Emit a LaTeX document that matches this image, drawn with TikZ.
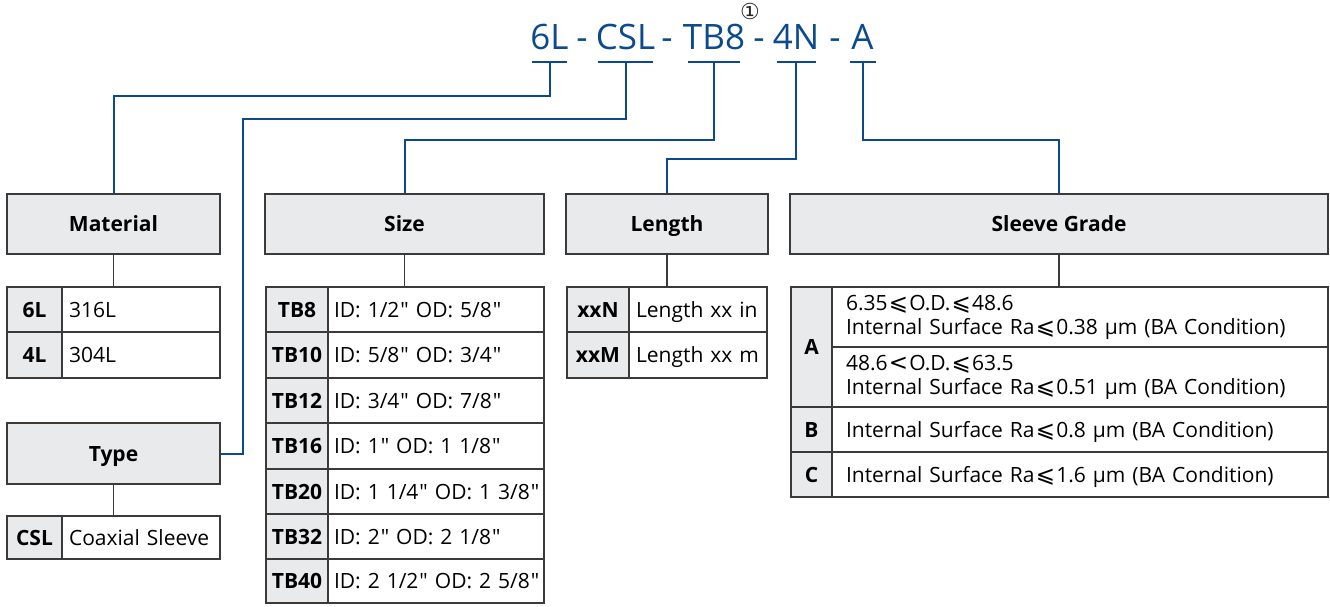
\documentclass[tikz,border=0pt]{standalone}
\usepackage{fontspec}
\setmainfont{Open Sans}
\newfontfamily\symf{DejaVu Sans}
\newfontfamily\rawf{Open Sans}
\definecolor{navy}{HTML}{0B4A8C}
\definecolor{hdrgray}{HTML}{E9EAEC}
\definecolor{edge}{HTML}{3A3A3A}
\newcommand\fs{\fontsize{21}{24}\selectfont}
\newcommand\myle{\hspace{1.2pt}{\symf\fontsize{23}{24}\selectfont ⩽}\hspace{1.2pt}}
\newcommand\mylt{\hspace{1.2pt}{\symf\fontsize{23}{24}\selectfont <}\hspace{1.2pt}}
\newcommand\qq{\hspace{1pt}{\rawf "}}
% style-cell: options, name, x1,y1,x2,y2, text
\newcommand\kcell[7]{%
  \pgfmathsetmacro\cw{#5-#3}\pgfmathsetmacro\ch{#6-#4}%
  \node[#1, minimum width=\cw pt, minimum height=\ch pt] (#2) at ({(#3+#5)/2},{(#4+#6)/2}) {#7};}
% value cell: options, name, x1,y1,x2,y2, pad, text
\newcommand\vcell[8]{%
  \pgfmathsetmacro\cw{#5-#3}\pgfmathsetmacro\ch{#6-#4}\pgfmathsetmacro\tw{#5-#3-2*#7}%
  \node[val, minimum width=\cw pt, minimum height=\ch pt, text width=\tw pt, #1] (#2) at ({(#3+#5)/2},{(#4+#6)/2}) {#8};}
\begin{document}
\begin{tikzpicture}[x=1pt,y=-1pt,
  box/.style={draw=edge, line width=1.5pt, inner sep=0pt},
  hdr/.style={box, fill=hdrgray, font=\fs\bfseries, text height=15pt, text depth=0pt},
  key/.style={box, fill=hdrgray, font=\fs\bfseries, text height=15pt, text depth=0pt},
  val/.style={box, fill=white, font=\fs, align=left, text height=15pt, text depth=0pt},
  wire/.style={draw=navy, line width=2pt},
  stem/.style={draw=edge, line width=1.5pt},
  ttl/.style={text=navy, font=\fontsize{35}{40}\selectfont, anchor=base, inner sep=0pt, text height=25pt, text depth=0pt}]
\useasboundingbox (0,0) rectangle (1330,607);

% ---- title ----
\node[ttl] (t1) at (549.5,49.3) {6L};
\node[ttl] (d1) at (582,49.3) {-};
\node[ttl] (t2) at (625.5,49.3) {CSL};
\node[ttl] (d2) at (667,49.3) {-};
\node[ttl] (t3) at (714,49.3) {TB8};
\node[ttl] (d3) at (759,49.3) {-};
\node[ttl] (t4) at (796,49.3) {4N};
\node[ttl] (d4) at (835,49.3) {-};
\node[ttl] (t5) at (862.5,49.3) {A};
\node[inner sep=0pt, text=black!85, font=\symf\fontsize{22}{22}\selectfont, anchor=base, text height=16pt, text depth=0pt] (note) at (750,20) {①};
\coordinate (ul) at (0,62);
\coordinate (u1a) at (532,62); \coordinate (u1b) at (567,62);
\coordinate (u2a) at (598,62); \coordinate (u2b) at (653,62);
\coordinate (u3a) at (688,62); \coordinate (u3b) at (740,62);
\coordinate (u4a) at (777,62); \coordinate (u4b) at (816,62);
\coordinate (u5a) at (850,62); \coordinate (u5b) at (876,62);
\foreach \u in {u1,u2,u3,u4,u5}{\draw[wire] (\u a) -- (\u b);}

% ---- header boxes ----
\kcell{hdr}{mat}{7}{194}{220}{254}{Material}
\kcell{hdr}{typ}{7}{423}{220}{484}{Type}
\kcell{hdr}{siz}{265}{194}{544}{254}{Size}
\kcell{hdr}{len}{566}{194}{768}{254}{Length}
\kcell{hdr}{slv}{790}{194}{1328}{254}{Sleeve Grade}

% ---- connectors ----
\coordinate (cslx) at (243,119);
\draw[wire] (t1|-ul) -- ++(0,34) -| (mat.north);
\draw[wire] (t2|-ul) |- (cslx) |- (typ.east);
\draw[wire] (t3|-ul) -- ++(0,78) -| (siz.north);
\draw[wire] (t4|-ul) -- ++(0,97) -| (len.north);
\draw[wire] (t5|-ul) -- ++(0,78) -| (slv.north);

% ---- material table ----
\kcell{key}{m1k}{7}{287}{62}{332}{6L}
\vcell{}{m1v}{62}{287}{220}{332}{7}{\mbox{316L}}
\kcell{key}{m2k}{7}{332}{62}{378}{4L}
\vcell{}{m2v}{62}{332}{220}{378}{7}{\mbox{304L}}
\draw[stem] (mat.south) -- (mat.south|-m1v.north);

% ---- type table ----
\kcell{key}{y1k}{7}{516}{62}{559}{CSL}
\vcell{}{y1v}{62}{516}{220}{559}{7}{\mbox{Coaxial Sleeve}}
\draw[stem] (typ.south) -- (typ.south|-y1v.north);

% ---- size table ----
\kcell{key}{s1k}{266}{287}{328}{332}{TB8}
\vcell{}{s1v}{328}{287}{544}{332}{6}{\mbox{ID: 1/2\qq{} OD: 5/8\qq}}
\kcell{key}{s2k}{266}{332}{328}{378}{TB10}
\vcell{}{s2v}{328}{332}{544}{378}{6}{\mbox{ID: 5/8\qq{} OD: 3/4\qq}}
\kcell{key}{s3k}{266}{378}{328}{423}{TB12}
\vcell{}{s3v}{328}{378}{544}{423}{6}{\mbox{ID: 3/4\qq{} OD: 7/8\qq}}
\kcell{key}{s4k}{266}{423}{328}{469}{TB16}
\vcell{}{s4v}{328}{423}{544}{469}{6}{\mbox{ID: 1\qq{} OD: 1 1/8\qq}}
\kcell{key}{s5k}{266}{469}{328}{514}{TB20}
\vcell{}{s5v}{328}{469}{544}{514}{6}{\mbox{ID: 1 1/4\qq{} OD: 1 3/8\qq}}
\kcell{key}{s6k}{266}{514}{328}{559}{TB32}
\vcell{}{s6v}{328}{514}{544}{559}{6}{\mbox{ID: 2\qq{} OD: 2 1/8\qq}}
\kcell{key}{s7k}{266}{559}{328}{603}{TB40}
\vcell{}{s7v}{328}{559}{544}{603}{6}{\mbox{ID: 2 1/2\qq{} OD: 2 5/8\qq}}
\draw[stem] (siz.south) -- (siz.south|-s1v.north);

% ---- length table ----
\kcell{key}{l1k}{567}{287}{629}{332}{xxN}
\vcell{}{l1v}{629}{287}{767}{332}{7}{\mbox{Length xx in}}
\kcell{key}{l2k}{567}{332}{629}{378}{xxM}
\vcell{}{l2v}{629}{332}{767}{378}{7}{\mbox{Length xx m}}
\draw[stem] (len.south) -- (len.south|-l1v.north);

% ---- sleeve grade table ----
\kcell{key}{gak}{791}{287}{832}{407}{A}
\vcell{text height=, text depth=}{ga1}{832}{287}{1328}{347}{14}{\mbox{6.35\myle O.D.\myle 48.6}\\\mbox{Internal Surface Ra\myle 0.38 µm (BA Condition)}}
\vcell{text height=, text depth=}{ga2}{832}{347}{1328}{407}{14}{\mbox{48.6\mylt O.D.\myle 63.5}\\\mbox{Internal Surface Ra\myle 0.51 µm (BA Condition)}}
\kcell{key}{gbk}{791}{407}{832}{452}{B}
\vcell{}{gbv}{832}{407}{1328}{452}{14}{\mbox{Internal Surface Ra\myle 0.8 µm (BA Condition)}}
\kcell{key}{gck}{791}{452}{832}{497}{C}
\vcell{}{gcv}{832}{452}{1328}{497}{14}{\mbox{Internal Surface Ra\myle 1.6 µm (BA Condition)}}
\draw[stem] (slv.south) -- (slv.south|-ga1.north);
\end{tikzpicture}
\end{document}
